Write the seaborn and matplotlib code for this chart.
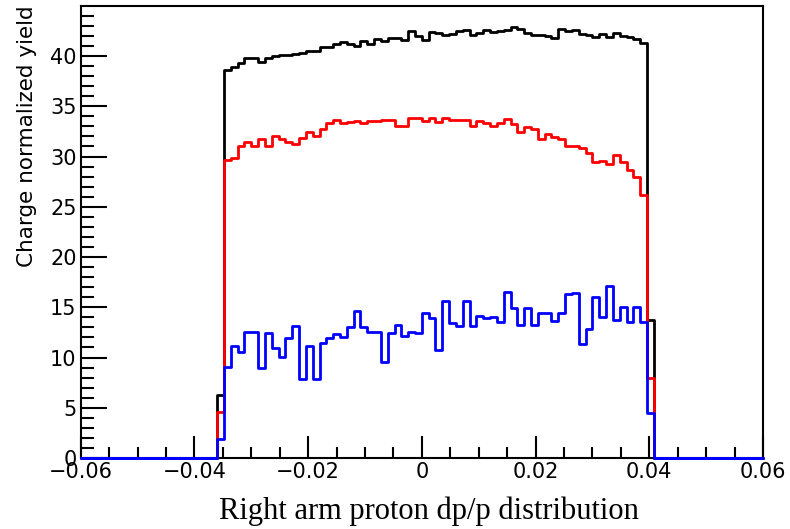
import numpy as np
import pandas as pd
import seaborn as sns
import matplotlib
matplotlib.use("Agg")
import matplotlib.pyplot as plt
from matplotlib.ticker import MultipleLocator, FuncFormatter

# histogram definition: 100 bins from -0.06 to 0.06; filled bins start at index 20
x_lo, x_hi, n_bins = -0.06, 0.06, 100
first_bin = 20

black_vals = [6.3, 38.6, 38.9, 39.3, 39.8, 39.8, 39.4, 39.8, 40.0, 40.1,
              40.1, 40.2, 40.3, 40.5, 40.5, 40.9, 40.9, 41.2, 41.4, 41.2,
              41.0, 41.5, 41.2, 41.7, 41.5, 41.8, 41.8, 41.6, 42.5, 42.0,
              41.6, 42.4, 42.3, 42.1, 42.2, 42.5, 42.6, 42.1, 42.3, 42.6,
              42.4, 42.5, 42.6, 42.9, 42.7, 42.3, 42.1, 42.1, 42.0, 41.8,
              42.7, 42.5, 42.6, 42.2, 42.1, 41.9, 42.2, 41.9, 42.3, 42.0,
              41.9, 41.7, 41.3, 13.7]
red_vals = [4.6, 29.7, 29.9, 31.0, 31.4, 31.0, 31.7, 31.0, 32.0, 31.7,
            31.4, 31.2, 31.8, 32.4, 32.0, 32.7, 33.3, 33.6, 33.3, 33.4,
            33.5, 33.3, 33.5, 33.5, 33.6, 33.6, 33.0, 33.0, 33.8, 33.8,
            33.5, 33.8, 33.4, 33.8, 33.6, 33.6, 33.6, 33.0, 33.5, 33.3,
            33.0, 33.3, 33.7, 33.2, 32.4, 32.9, 32.7, 31.7, 32.2, 31.9,
            31.7, 31.0, 31.0, 30.8, 30.4, 29.5, 29.6, 29.3, 30.2, 29.5,
            28.7, 28.0, 26.2, 8.0]
blue_vals = [1.9, 9.1, 11.1, 10.5, 12.5, 12.5, 9.0, 12.4, 10.9, 10.1,
             11.9, 13.1, 7.9, 11.1, 7.9, 11.4, 11.9, 12.3, 12.0, 13.0,
             14.6, 13.0, 12.5, 12.5, 9.6, 12.4, 13.2, 12.1, 12.5, 12.4,
             14.4, 13.9, 10.7, 15.6, 13.4, 13.1, 15.6, 13.1, 14.1, 13.9,
             14.0, 13.5, 16.5, 14.9, 13.2, 14.9, 13.2, 14.4, 14.4, 13.6,
             14.4, 16.3, 16.4, 11.3, 12.8, 16.0, 14.0, 17.1, 13.7, 15.0,
             13.5, 15.0, 13.5, 4.5]

x_label = "Right arm proton dp/p distribution"
y_label = "Charge normalized yield"

edges = np.linspace(x_lo, x_hi, n_bins + 1)
centers = 0.5 * (edges[:-1] + edges[1:])


def full_weights(vals):
    w = np.zeros(n_bins)
    w[first_bin:first_bin + len(vals)] = vals
    return w


df = pd.DataFrame({
    "x": np.concatenate([centers] * 3),
    "w": np.concatenate([full_weights(black_vals), full_weights(red_vals),
                         full_weights(blue_vals)]),
    "series": ["black"] * n_bins + ["red"] * n_bins + ["blue"] * n_bins,
})

sns.set_theme(style="white")
plt.rcParams["font.family"] = ["DejaVu Sans"]

fig = plt.figure(figsize=(7.9, 5.29), dpi=100)
ax = fig.add_axes([80.7 / 790, 1 - 458 / 529, (763 - 80.7) / 790, (458 - 6) / 529])

for name, col in [("black", "#000000"), ("red", "#ff0000"), ("blue", "#0000ff")]:
    sub = df[df["series"] == name]
    sns.histplot(data=sub, x="x", weights="w", bins=n_bins, binrange=(x_lo, x_hi),
                 element="step", fill=False, color=col, linewidth=2.0, ax=ax)

# ROOT-style: zero bins drawn along the baseline, over the frame
for ln in ax.lines:
    ln.set_clip_on(False)
    ln.set_zorder(3)
for name, col in [("blue", "#0000ff")]:
    ax.plot([x_lo, edges[first_bin]], [0, 0], color=col, lw=2.0, clip_on=False, zorder=3)
    ax.plot([edges[first_bin + len(blue_vals)], x_hi], [0, 0], color=col, lw=2.0,
            clip_on=False, zorder=3)

ax.set_xlim(x_lo, x_hi)
ax.set_ylim(0, 44.98)

ax.xaxis.set_major_locator(MultipleLocator(0.02))
ax.xaxis.set_minor_locator(MultipleLocator(0.005))
ax.yaxis.set_major_locator(MultipleLocator(5))
ax.yaxis.set_minor_locator(MultipleLocator(1))


def xfmt(v, pos):
    if abs(v) < 1e-9:
        return "0"
    return f"{v:.2f}".replace("-", "\u2212")


ax.xaxis.set_major_formatter(FuncFormatter(xfmt))
ax.yaxis.set_major_formatter(FuncFormatter(lambda v, p: f"{v:.0f}"))

ax.tick_params(axis="both", which="both", direction="in", top=False, right=False,
               bottom=True, left=True, color="black", labelcolor="black")
ax.tick_params(axis="y", which="major", length=19, width=1.5, labelsize=15, pad=3)
ax.tick_params(axis="y", which="minor", length=9, width=1.5)
ax.tick_params(axis="x", which="major", length=16, width=1.5, labelsize=15, pad=3)
ax.tick_params(axis="x", which="minor", length=8, width=1.5)

for s in ax.spines.values():
    s.set_visible(True)
    s.set_color("black")
    s.set_linewidth(1.5)

ax.set_xlabel("")
ax.set_ylabel("")
fig.text(429 / 790, 1 - 511 / 529, x_label, ha="center", va="center",
         fontsize=22, family=["Liberation Serif"], color="black")
fig.text(27 / 790, 1 - 5 / 529, y_label, ha="center", va="top", rotation=90,
         fontsize=15.5, color="black")

fig.savefig("out.png", dpi=100)
